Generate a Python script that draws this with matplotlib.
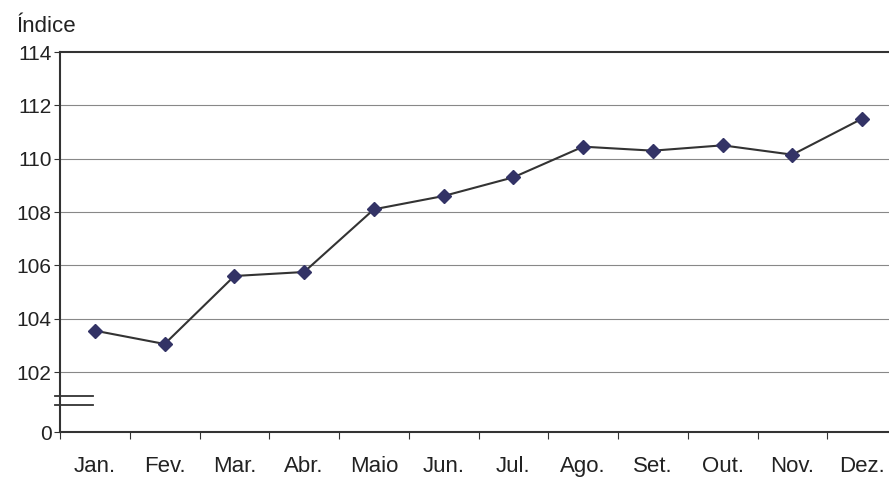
import matplotlib.pyplot as plt

plt.rcParams['font.family'] = ['Liberation Sans', 'DejaVu Sans']

meses = ['Jan.', 'Fev.', 'Mar.', 'Abr.', 'Maio', 'Jun.', 'Jul.', 'Ago.', 'Set.', 'Out.', 'Nov.', 'Dez.']
indice = [103.55, 103.05, 105.6, 105.75, 108.1, 108.6, 109.3, 110.45, 110.3, 110.5, 110.15, 111.5]
yticks = [99.75, 102, 104, 106, 108, 110, 112, 114]
ylabels = ['0', '102', '104', '106', '108', '110', '112', '114']

fig = plt.figure(figsize=(8.89, 4.79), dpi=100)
W, H = 889, 479
ax = fig.add_axes([60 / W, 1 - 432 / H, 837 / W, 380 / H])

x = list(range(len(meses)))
ax.plot(x, indice, color='#333333', lw=1.5, marker='D', ms=7,
        markerfacecolor='#333366', markeredgecolor='#333366', zorder=3)

ax.set_xlim(-0.5, 11.5)
ax.set_ylim(99.75, 114)
ax.set_yticks(yticks)
ax.set_yticklabels(ylabels, fontsize=15, color='#222222')
for v in yticks[1:-1]:
    ax.axhline(v, color='#888888', lw=0.8, zorder=1)

ax.set_xticks([i - 0.5 for i in range(13)])
ax.set_xticklabels([])
ax.set_xticks(x, minor=True)
ax.set_xticklabels(meses, minor=True, fontsize=16, color='#222222')
ax.tick_params(axis='x', which='minor', length=0, pad=17)
ax.tick_params(axis='x', which='major', length=5, color='#333333')
ax.tick_params(axis='y', length=4, color='#333333', pad=2)

for s in ['top', 'left', 'bottom']:
    ax.spines[s].set_color('#333333')
    ax.spines[s].set_linewidth(1.5)
ax.spines['right'].set_visible(False)

# quebra do eixo
for yb in [101.1, 100.76]:
    ax.plot([-0.57, -0.02], [yb, yb], color='#333333', lw=1.3, clip_on=False, zorder=4)

fig.text(16 / W, 1 - 27 / H, 'Índice', fontsize=16, color='#222222', va='center')

fig.savefig('out.png', dpi=100)
